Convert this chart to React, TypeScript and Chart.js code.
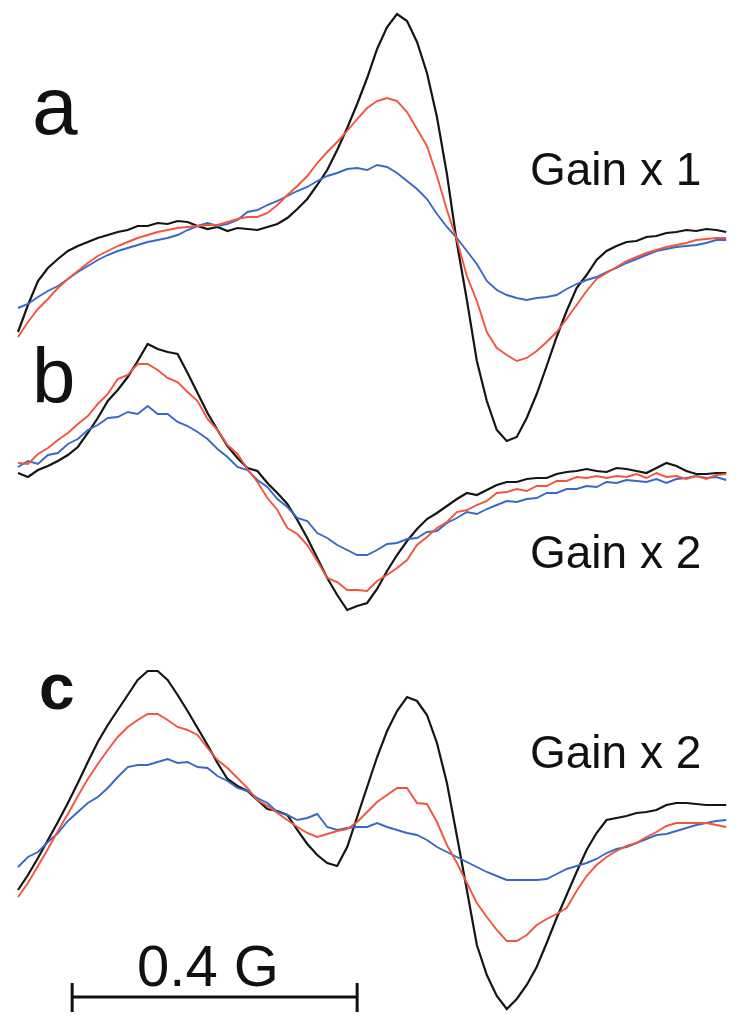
import React, { useEffect, useRef } from "react";
import { Chart, registerables } from "chart.js";
Chart.register(...registerables);

// Magnetic field offset (mG) of each sample
const fieldMG = [0,14,28,42,56,70,84,98,112,126,140,154,168,182,196,210,224,238,252,266,280,294,308,322,336,350,364,378,392,406,420,434,448,462,476,490,504,518,532,546,560,574,588,602,616,630,644,658,672,686,700,714,728,742,756,770,784,798,812,826,840,854,868,882,896,910,924,938,952,966,980,994];

// Panel a (Gain x 1) - signal amplitude, arbitrary units
const aBlack = [-92,-65,-41,-28,-19,-11,-6,-2,2,5, 8,10,14,14,17,16,19,18,14,11, 13,9,12,11,10,13,16,22,31,41, 55,70,90,112,136,162,191,213,226,219, 198,167,123,66,-3,-60,-121,-161,-190,-201, -197,-178,-154,-126,-97,-71,-48,-35,-20,-11, -6,-2,-1,3,4,7,8,10,9,11, 10,8];
const aRed = [-97,-82,-69,-59,-48,-39,-31,-23,-16,-11, -6,-2,2,5,8,10,12,13,14,15, 15,18,21,23,23,27,35,45,54,64, 77,88,98,109,121,132,139,142,139,128, 111,94,64,30,0,-36,-61,-92,-108,-115, -121,-118,-111,-102,-92,-79,-65,-51,-39,-33, -27,-21,-17,-13,-10,-7,-5,-3,0,1, 2,2];
const aBlue = [-68,-64,-57,-51,-46,-39,-32,-26,-20,-15, -11,-8,-5,-2,0,2,5,10,14,17, 14,16,20,28,30,35,39,44,49,53, 59,64,67,71,72,70,75,73,67,59, 51,41,26,13,2,-11,-24,-41,-50,-55, -58,-60,-58,-57,-55,-49,-44,-40,-37,-32, -28,-23,-19,-15,-11,-9,-7,-6,-5,-3, 0,0];

// Panel b (Gain x 2)
const bBlack = [7,3,10,14,19,25,33,47,62,79, 90,103,119,136,131,128,126,107,87,67, 50,34,22,12,9,-3,-13,-24,-40,-58, -78,-98,-115,-130,-126,-123,-109,-91,-75,-61, -49,-39,-33,-26,-19,-13,-15,-10,-5,-2, -2,1,2,2,6,8,9,11,9,8, 12,11,9,7,12,17,14,9,6,6, 7,7];
const bRed = [17,16,26,32,40,47,56,64,76,86, 101,105,116,116,110,102,98,88,79,61, 50,35,26,11,-2,-18,-30,-48,-54,-65, -81,-98,-102,-110,-110,-111,-101,-95,-88,-80, -65,-57,-48,-42,-32,-30,-25,-21,-13,-12, -9,-11,-6,-6,-1,-1,3,2,4,2, 4,3,6,2,7,3,4,1,4,1, 5,6];
const bBlue = [13,19,16,25,27,36,41,50,55,62, 63,68,66,74,66,66,58,54,48,41, 31,23,13,10,0,-7,-19,-27,-38,-41, -53,-58,-65,-70,-75,-75,-70,-64,-63,-59, -58,-52,-51,-43,-38,-32,-34,-29,-25,-21, -22,-19,-18,-13,-13,-9,-9,-6,-7,-2, -3,0,-1,-2,1,-3,1,2,4,2, 3,0];

// Panel c (Gain x 2)
const cBlack = [-50,-35,-18,0,18,37,57,78,98,115, 130,145,160,169,169,160,145,129,112,95, 77,61,54,49,40,31,29,25,10,-4, -15,-23,-26,-7,23,53,83,109,129,143, 139,125,97,57,4,-50,-105,-135,-156,-169, -159,-145,-127,-103,-78,-55,-32,-10,7,20, 22,24,27,28,30,35,37,37,36,35, 35,35];
const cRed = [-57,-43,-26,-9,9,26,44,61,76,90, 103,113,120,126,126,120,113,110,105,92, 80,72,62,52,40,34,27,20,13,7, 3,6,9,11,18,28,38,45,52,52, 37,36,18,-5,-23,-43,-63,-77,-90,-101, -101,-95,-85,-79,-74,-68,-51,-36,-25,-17, -11,-6,-3,3,8,14,17,17,17,17, 15,13];
const cBlue = [-27,-17,-12,-2,7,19,28,37,43,52, 63,73,75,75,78,81,77,78,73,72, 64,59,52,49,42,37,28,25,20,22, 26,13,10,12,13,13,17,13,10,7, 5,0,-7,-12,-17,-22,-27,-32,-36,-40, -40,-40,-40,-39,-34,-29,-26,-23,-19,-13, -9,-7,-3,1,5,6,9,12,15,17, 19,20];

const panelLabels = ["a", "b", "c"];
const gainLabels = ["Gain x 1", "Gain x 2", "Gain x 2"];
const scaleBarMG = 400;
const scaleBarLabel = "0.4 G";

const BLACK = "#151515";
const RED = "#f2553d";
const BLUE = "#3868c8";

export default function App() {
  const ref = useRef<HTMLCanvasElement | null>(null);
  useEffect(() => {
    if (!ref.current) return;
    const bases = [240, 480, 840];
    const panels = [
      [aRed, aBlue, aBlack],
      [bRed, bBlue, bBlack],
      [cRed, cBlue, cBlack],
    ];
    const colors = [RED, BLUE, BLACK];
    const datasets: any[] = [];
    panels.forEach((set, p) => {
      set.forEach((vals, k) => {
        datasets.push({
          data: fieldMG.map((f, i) => ({ x: f, y: vals[i] - bases[p] })),
          borderColor: colors[k],
          borderWidth: k === 2 ? 2.2 : 1.9,
          pointRadius: 0,
          tension: 0,
          fill: false,
        });
      });
    });

    const textPlugin = {
      id: "textPlugin",
      afterDraw(chart: any) {
        const ctx = chart.ctx as CanvasRenderingContext2D;
        const xs = chart.scales.x;
        ctx.save();
        ctx.fillStyle = "#111";
        ctx.textBaseline = "alphabetic";
        ctx.textAlign = "left";
        ctx.font = "82px 'Liberation Sans', Arial, sans-serif";
        ctx.fillText(panelLabels[0], 32, 134);
        ctx.font = "78px 'Liberation Sans', Arial, sans-serif";
        ctx.fillText(panelLabels[1], 32, 403);
        ctx.font = "bold 64px 'Liberation Sans', Arial, sans-serif";
        ctx.fillText(panelLabels[2], 39, 709);
        ctx.font = "46px 'Liberation Sans', Arial, sans-serif";
        ctx.fillText(gainLabels[0], 530, 185);
        ctx.fillText(gainLabels[1], 530, 568);
        ctx.fillText(gainLabels[2], 530, 768);

        // scale bar
        const x0 = xs.getPixelForValue(76);
        const x1 = xs.getPixelForValue(76 + scaleBarMG);
        ctx.strokeStyle = "#111";
        ctx.lineWidth = 3;
        ctx.beginPath();
        ctx.moveTo(x0, 997);
        ctx.lineTo(x1, 997);
        ctx.moveTo(x0, 983);
        ctx.lineTo(x0, 1012);
        ctx.moveTo(x1, 983);
        ctx.lineTo(x1, 1012);
        ctx.stroke();

        ctx.textAlign = "center";
        ctx.font = "58px 'Liberation Sans', Arial, sans-serif";
        ctx.fillText(scaleBarLabel, 208, 986);
        ctx.restore();
      },
    };

    const chart = new Chart(ref.current, {
      type: "line",
      data: { datasets },
      options: {
        animation: false,
        responsive: false,
        maintainAspectRatio: false,
        layout: { padding: 0 },
        plugins: { legend: { display: false }, tooltip: { enabled: false } },
        scales: {
          x: { type: "linear", display: false, min: -18 / 0.7125, max: (750 - 18) / 0.7125 },
          y: { type: "linear", display: false, min: -1036, max: 0 },
        },
      },
      plugins: [textPlugin],
    });
    return () => chart.destroy();
  }, []);

  return (
    <div style={{ position: "absolute", left: 0, top: 0, width: 750, height: 1036, background: "#fff" }}>
      <canvas ref={ref} width={750} height={1036} style={{ display: "block" }} />
    </div>
  );
}
